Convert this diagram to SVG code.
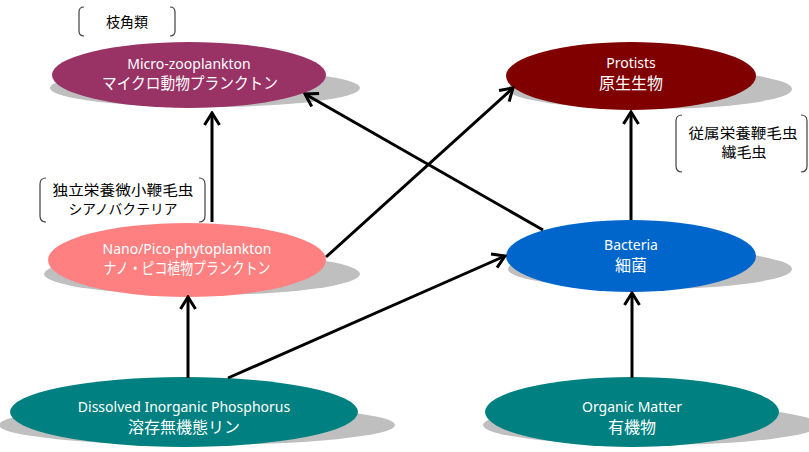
<svg xmlns="http://www.w3.org/2000/svg" width="809" height="452" viewBox="0 0 809 452">
  <style>
    .shadow { fill: #bfbfbf; }
    .lbl { font-family: "Noto Sans", "Noto Sans CJK JP", sans-serif; fill: #ffffff; text-anchor: middle; }
    .en { font-size: 14px; }
    .jp { font-size: 16px; }
    .note { font-family: "Noto Sans CJK JP", sans-serif; font-size: 14px; fill: #000000; text-anchor: middle; }
    .bracket { fill: none; stroke: #404040; stroke-width: 1.2; }
    .edge { fill: none; stroke: #000000; stroke-width: 3; marker-end: url(#arrow); }
  </style>
  <defs>
    <marker id="arrow" markerUnits="userSpaceOnUse" viewBox="-14 -9 16 18" markerWidth="16" markerHeight="18" refX="0" refY="0" orient="auto">
      <path d="M-12,-7.5 L0,0 L-12,7.5" fill="none" stroke="#000000" stroke-width="3"/>
    </marker>
  </defs>

  <rect width="809" height="452" fill="#ffffff"/>

  <!-- notes in brackets -->
  <g id="note-cladocera">
    <path class="bracket" d="M84,7 Q79,7 79,12 L79,31 Q79,36 84,36"/>
    <path class="bracket" d="M170,7 Q175,7 175,12 L175,31 Q175,36 170,36"/>
    <text class="note" x="127" y="27" font-size="16">枝角類</text>
  </g>
  <g id="note-autotrophs">
    <path class="bracket" d="M46,178 Q40,178 40,184 L40,216 Q40,222 46,222"/>
    <path class="bracket" d="M199,178 Q205,178 205,184 L205,216 Q205,222 199,222"/>
    <text class="note" x="123" y="195" textLength="141" lengthAdjust="spacingAndGlyphs">独立栄養微小鞭毛虫</text>
    <text class="note" x="123" y="214" textLength="109" lengthAdjust="spacingAndGlyphs">シアノバクテリア</text>
  </g>
  <g id="note-heterotrophs">
    <path class="bracket" d="M682,115 Q676,115 676,121 L676,166 Q676,172 682,172"/>
    <path class="bracket" d="M801,115 Q807,115 807,121 L807,166 Q807,172 801,172"/>
    <text class="note" x="743" y="138" textLength="109" lengthAdjust="spacingAndGlyphs">従属栄養鞭毛虫</text>
    <text class="note" x="744" y="157" textLength="45" lengthAdjust="spacingAndGlyphs">繊毛虫</text>
  </g>

  <!-- nodes -->
  <g id="micro-zooplankton">
    <ellipse class="shadow" cx="205" cy="88" rx="155" ry="19"/>
    <ellipse cx="189" cy="75" rx="137" ry="33" fill="#993366"/>
    <text class="lbl en" x="189" y="69">Micro-zooplankton</text>
    <text class="lbl jp" x="190" y="89" font-size="15" textLength="176" lengthAdjust="spacingAndGlyphs">マイクロ動物プランクトン</text>
  </g>
  <g id="protists">
    <ellipse class="shadow" cx="650" cy="89" rx="142" ry="20"/>
    <ellipse cx="631" cy="76" rx="125" ry="34" fill="#800000"/>
    <text class="lbl en" x="631" y="68" font-size="15">Protists</text>
    <text class="lbl jp" x="631" y="89" font-size="17">原生生物</text>
  </g>
  <g id="nano-pico-phytoplankton">
    <ellipse class="shadow" cx="202" cy="274" rx="158" ry="21"/>
    <ellipse cx="187" cy="260" rx="139" ry="37" fill="#ff8080"/>
    <text class="lbl en" x="187" y="254">Nano/Pico-phytoplankton</text>
    <text class="lbl jp" x="187" y="274" font-size="15" textLength="167" lengthAdjust="spacingAndGlyphs">ナノ・ピコ植物プランクトン</text>
  </g>
  <g id="bacteria">
    <ellipse class="shadow" cx="650" cy="269" rx="142" ry="20"/>
    <ellipse cx="631" cy="256" rx="125" ry="36" fill="#0066cc"/>
    <text class="lbl en" x="631" y="250" font-size="15">Bacteria</text>
    <text class="lbl jp" x="631" y="271">細菌</text>
  </g>
  <g id="dissolved-inorganic-phosphorus">
    <ellipse class="shadow" cx="197" cy="425" rx="198" ry="20"/>
    <ellipse cx="184" cy="412" rx="174" ry="35" fill="#008080"/>
    <text class="lbl en" x="184" y="412" font-size="15">Dissolved Inorganic Phosphorus</text>
    <text class="lbl jp" x="184" y="433">溶存無機態リン</text>
  </g>
  <g id="organic-matter">
    <ellipse class="shadow" cx="651" cy="425" rx="168" ry="20"/>
    <ellipse cx="632" cy="412" rx="147" ry="35" fill="#008080"/>
    <text class="lbl en" x="632" y="412" font-size="15">Organic Matter</text>
    <text class="lbl jp" x="632" y="433" font-size="17">有機物</text>
  </g>

  <!-- connectors -->
  <g id="connectors">
    <line class="edge" x1="212" y1="222" x2="212" y2="113"/>
    <line class="edge" x1="326" y1="257" x2="513" y2="88"/>
    <line class="edge" x1="543" y1="230" x2="305" y2="94"/>
    <line class="edge" x1="228" y1="378" x2="505" y2="256"/>
    <line class="edge" x1="188" y1="378" x2="188" y2="297"/>
    <line class="edge" x1="632" y1="378" x2="632" y2="293"/>
    <line class="edge" x1="631" y1="220" x2="631" y2="112"/>
  </g>
</svg>
